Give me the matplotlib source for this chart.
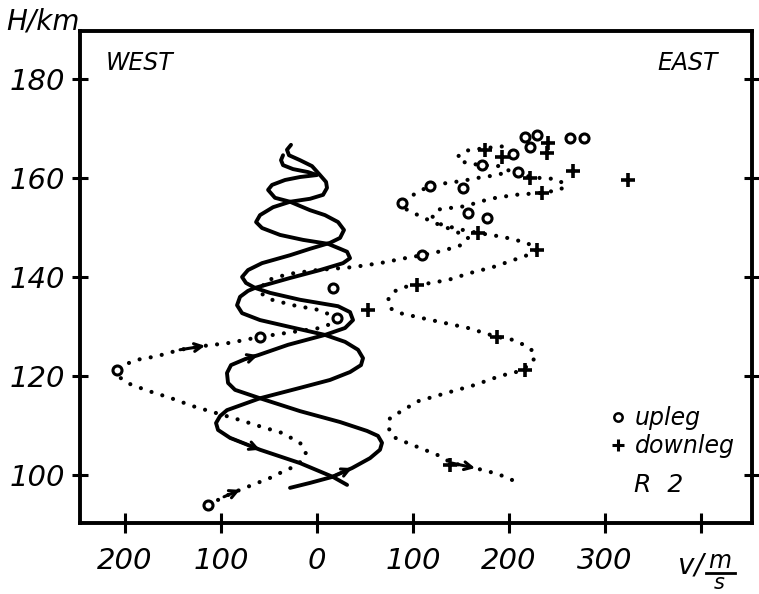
import matplotlib
matplotlib.use('Agg')
import matplotlib.pyplot as plt
from matplotlib.lines import Line2D

# solid wave curves: zonal wind (m/s, east positive) vs altitude (km)
wave1_v = [-28.1, -7.3, 15.6, 36.5, 55.2, 65.6, 67.7, 63.5, 52.1, 24.0,
           -17.7, -59.4, -85.4, -92.7, -93.8, -89.6, -75.0, -61.5, -30.2, 8.3,
           29.2, 37.5, 34.4, 21.9, -17.7, -49.0, -64.6, -74.0, -78.1, -71.9,
           -57.3, -28.1, -7.3, 13.5, 24.0, 28.1, 21.9, 8.3, -7.3, -28.1,
           -43.8, -51.0, -46.9, -33.3, -17.7, 0.0, -9.4, -25.0, -35.4, -37.5, -35.4]
wave1_h = [97.4, 98.4, 99.6, 101.4, 103.4, 105.1, 106.5, 107.9, 108.9, 110.7,
           112.9, 115.5, 117.2, 118.6, 120.6, 122.2, 123.4, 124.2, 126.3, 128.3,
           129.7, 131.3, 132.9, 134.1, 135.4, 136.8, 137.8, 138.8, 140.0, 141.4,
           142.8, 144.4, 145.7, 146.9, 147.9, 149.5, 151.1, 152.5, 153.5, 155.2,
           156.0, 157.6, 158.6, 159.6, 160.2, 160.6, 161.2, 161.8, 162.6, 163.6, 164.6]

wave2_v = [31.3, 16.7, -17.7, -59.4, -90.6, -103.1, -105.2, -101.0, -93.8, -59.4,
           -17.7, 13.5, 34.4, 45.8, 47.9, 42.7, 29.2, 8.3, -28.1, -59.4,
           -78.1, -83.3, -80.2, -71.9, -64.6, -28.1, 3.1, 27.1, 34.4, 31.3,
           24.0, 11.5, -14.6, -38.5, -57.3, -63.5, -59.4, -45.8, -28.1, -7.3,
           6.3, 10.4, 9.4, 3.1, -5.2, -17.7, -29.2, -31.3, -27.1]
wave2_h = [98.0, 99.6, 102.4, 105.1, 107.5, 109.1, 110.5, 111.9, 113.1, 115.5,
           117.6, 119.2, 120.8, 122.2, 123.6, 125.3, 126.9, 128.3, 129.9, 131.3,
           132.7, 134.3, 136.0, 137.2, 137.8, 139.8, 141.4, 142.8, 143.8, 145.1,
           145.7, 146.7, 147.5, 148.5, 149.9, 151.1, 152.5, 154.1, 155.2, 155.8,
           156.6, 158.0, 159.2, 160.6, 162.4, 163.6, 164.6, 165.7, 166.7]

# dotted profiles
upline_v = [-113.5, -96.9, -80.2, -64.6, -49.0, -36.5, -25.0, -14.6, -11.5, -17.7,
            -36.5, -57.3, -80.2, -108.3, -129.2, -153.1, -176.0, -197.9, -207.3, -205.2,
            -189.6, -166.7, -142.7, -116.7, -90.6, -59.4, -25.0, 3.1, 16.7, 20.8,
            3.1, -25.0, -46.9, -59.4, -54.2, -30.2, 0.0, 37.5, 65.6, 91.7,
            109.4, 131.3, 151.0, 157.3, 143.8, 122.9, 105.2, 92.7, 88.5, 96.9,
            107.3, 117.7, 135.4, 151.0, 166.7, 187.5, 201.0, 190.6, 171.9, 155.2,
            145.8, 154.2, 169.8, 187.5, 201.0]
upline_h = [93.9, 95.6, 97.0, 98.2, 99.4, 100.6, 101.6, 103.0, 104.6, 106.5,
            108.5, 109.7, 111.1, 112.7, 113.9, 115.6, 117.0, 118.6, 120.0, 121.8,
            123.2, 124.0, 125.3, 126.1, 126.7, 127.9, 128.9, 129.7, 130.7, 131.7,
            133.3, 134.3, 135.4, 136.8, 139.2, 140.6, 141.4, 142.0, 142.8, 143.8,
            144.4, 145.3, 146.5, 147.9, 149.3, 150.9, 152.5, 153.7, 154.9, 156.2,
            157.4, 158.4, 159.0, 159.4, 160.0, 160.6, 161.4, 162.4, 162.6, 163.0,
            164.2, 165.5, 165.9, 166.3, 166.5]

downline_v = [203.1, 188.5, 164.6, 140.6, 126.0, 109.4, 93.8, 79.2, 74.0, 76.0,
              89.6, 105.2, 135.4, 164.6, 190.6, 211.5, 225.0, 227.1, 219.8, 204.2,
              187.5, 157.3, 133.3, 109.4, 86.5, 76.0, 74.0, 79.2, 91.7, 112.5,
              136.5, 159.4, 183.3, 204.2, 221.9, 229.2, 218.8, 193.8, 167.7, 146.9,
              128.1, 119.8, 128.1, 154.2, 180.2, 206.3, 234.4, 253.1, 259.4, 249.0,
              232.3, 211.5]
downline_h = [99.0, 100.2, 101.4, 102.4, 104.0, 105.3, 106.5, 107.7, 109.7, 111.5,
              113.1, 114.9, 116.6, 118.2, 120.0, 121.0, 122.8, 124.6, 125.9, 127.3,
              127.9, 129.7, 130.7, 131.7, 132.7, 133.7, 135.4, 137.0, 138.0, 138.6,
              139.4, 140.8, 142.0, 143.4, 144.6, 145.5, 146.9, 148.1, 148.9, 149.7,
              150.7, 152.3, 153.7, 154.3, 155.8, 156.6, 157.0, 157.6, 158.6, 159.8,
              160.0, 160.6]

# measured points
upleg_v = [-113.5, -208.3, -59.4, 20.8, 16.7, 109.4, 88.5, 117.7, 152.1, 157.3,
           177.1, 171.9, 204.2, 209.4, 216.7, 229.2, 221.9, 263.5, 278.1]
upleg_h = [93.9, 121.2, 127.9, 131.7, 137.8, 144.4, 154.9, 158.4, 158.0, 152.9,
           151.9, 162.6, 164.8, 161.2, 168.3, 168.7, 166.3, 168.1, 168.1]
downleg_v = [138.5, 216.7, 187.5, 53.1, 104.2, 229.2, 167.7, 234.4, 266.7, 324.0,
             221.9, 192.7, 175.0, 240.6, 239.6]
downleg_h = [102.0, 121.2, 127.9, 133.3, 138.4, 145.5, 148.9, 157.0, 161.4, 159.6,
             160.0, 164.2, 165.7, 167.1, 165.1]

x_ticks = [-200, -100, 0, 100, 200, 300, 400]
x_labels = ['200', '100', '0', '100', '200', '300', '']
y_ticks = [100, 120, 140, 160, 180]

plt.rcParams['font.family'] = 'DejaVu Sans'
plt.rcParams['font.style'] = 'italic'

W, H = 759, 594
fig = plt.figure(figsize=(W / 100, H / 100), dpi=100)
ax = fig.add_axes([80 / W, 1 - 523 / H, 672 / W, 492 / H])

# the two solid waves
for v, h in [(wave1_v, wave1_h), (wave2_v, wave2_h)]:
    ax.plot(v, h, color='black', lw=2.8, solid_joinstyle='round',
            solid_capstyle='round', zorder=3)

# dotted profiles
for v, h in [(upline_v, upline_h), (downline_v, downline_h)]:
    ax.plot(v, h, color='black', lw=3.0, linestyle=(0, (0.01, 2.7)),
            dash_capstyle='round', zorder=2)

ax.plot(upleg_v, upleg_h, 'o', ms=6.5, mfc='white', mec='black', mew=2.2, zorder=4)
ax.plot(downleg_v, downleg_h, '+', ms=10, mec='black', mew=2.6, zorder=4)


def arrow(v, h, i, j):
    # small arrow head along a curve, from point i towards point j
    ax.annotate('', xy=(v[j], h[j]), xytext=(v[i], h[i]),
                arrowprops=dict(arrowstyle='->,head_length=0.55,head_width=0.28',
                                lw=2.2, color='black', shrinkA=0, shrinkB=0),
                zorder=5)


arrow(wave1_v, wave1_h, 2, 3)
arrow(wave1_v, wave1_h, 16, 17)
arrow(wave2_v, wave2_h, 4, 3)
arrow(upline_v, upline_h, 1, 2)
arrow(upline_v, upline_h, 22, 23)
arrow(downline_v, downline_h, 3, 2)

ax.set_xlim(-246.9, 453.1)
ax.set_ylim(90.3, 189.7)
ax.set_xticks(x_ticks)
ax.set_xticklabels(x_labels)
ax.set_yticks(y_ticks)

for s in ax.spines.values():
    s.set_linewidth(2.8)
ax.tick_params(axis='x', direction='inout', length=15, width=2.2, pad=10,
               labelsize=21)
ax.tick_params(axis='y', direction='inout', length=11, width=2.2, pad=5,
               labelsize=21, right=True)

# texts
fig.text(43 / W, 1 - 21 / H, 'H/km', ha='center', va='center', fontsize=20)
fig.text(140 / W, 1 - 63 / H, 'WEST', ha='center', va='center', fontsize=17)
fig.text(688 / W, 1 - 63 / H, 'EAST', ha='center', va='center', fontsize=17)
fig.text(659 / W, 1 - 485 / H, 'R  2', ha='center', va='center', fontsize=18)
fig.text(691 / W, 1 - 566 / H, 'v/', ha='center', va='center', fontsize=20)
fig.text(720 / W, 1 - 561 / H, 'm', ha='center', va='center', fontsize=17)
fig.text(719 / W, 1 - 583 / H, 's', ha='center', va='center', fontsize=15)
fig.add_artist(Line2D([706 / W, 735 / W], [1 - 573 / H, 1 - 573 / H],
                      color='black', lw=2))

handles = [Line2D([], [], marker='o', ls='none', ms=6, mfc='white', mec='black', mew=1.8),
           Line2D([], [], marker='+', ls='none', ms=9, mec='black', mew=2.2)]
ax.legend(handles, ['upleg', 'downleg'], loc='upper left',
          bbox_to_anchor=(0.79, 0.237), frameon=False, fontsize=17,
          handlelength=0.6, handletextpad=0.4, labelspacing=0.15,
          borderpad=0, borderaxespad=0)

fig.savefig('out.png', dpi=100)
